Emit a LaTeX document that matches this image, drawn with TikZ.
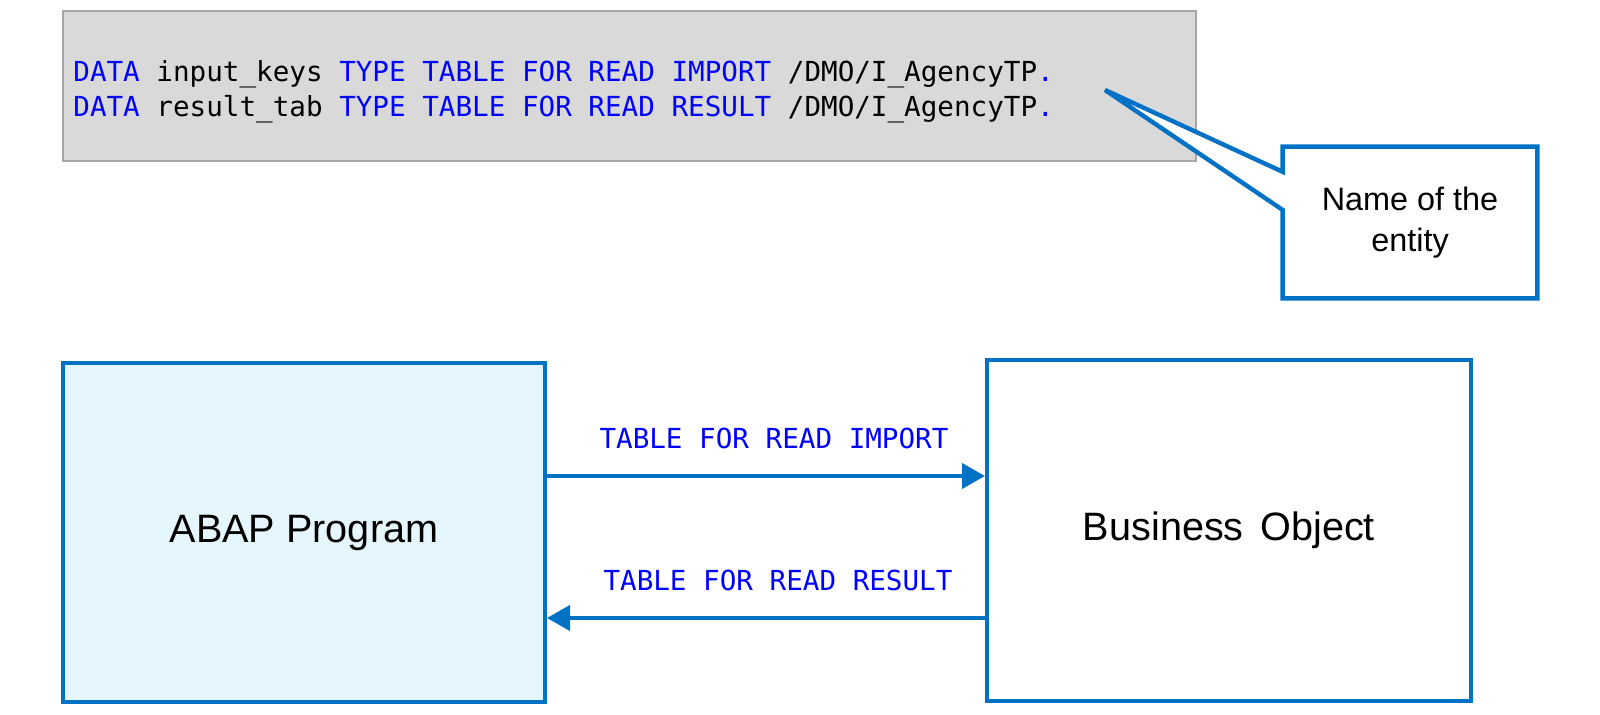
\documentclass[tikz,border=0pt]{standalone}
\usepackage{fontspec}
\setmainfont{Liberation Sans}
\setmonofont{DejaVu Sans Mono}
\usetikzlibrary{positioning,calc,arrows.meta}
\definecolor{sapblue}{RGB}{0,114,198}
\definecolor{kwblue}{RGB}{0,0,255}
\definecolor{codegray}{RGB}{217,217,217}
\definecolor{codeframe}{RGB}{166,166,166}
\definecolor{progfill}{RGB}{230,246,253}
\newcommand{\kw}[1]{\textcolor{kwblue}{#1}}

\begin{document}
\begin{tikzpicture}[x=0.5pt,y=-0.5pt,
  box/.style={draw=sapblue,line width=2pt,inner sep=0pt,font=\fontsize{19.8}{24}\selectfont},
  flow/.style={draw=sapblue,line width=2pt,-{Triangle[length=11.5pt,width=12.5pt]}},
  codeline/.style={anchor=base west,inner sep=0pt,font=\ttfamily\fontsize{13.8}{16}\selectfont},
  flowlabel/.style={above=12.5pt,inner sep=0pt,text=kwblue,font=\ttfamily\fontsize{13.8}{16}\selectfont}]
  \useasboundingbox (0,0) rectangle (1600,715);

  %code box
  \node[draw=codeframe,line width=1pt,fill=codegray,minimum width=566.5pt,minimum height=75pt,inner sep=0pt] (code) at (629.5,86) {};
  \node[codeline] (line1) at (73,81.5) {\kw{DATA} input\_keys \kw{TYPE TABLE FOR READ IMPORT} /DMO/I\_AgencyTP\kw{.}};
  \node[codeline] (line2) at (73,116.5) {\kw{DATA} result\_tab \kw{TYPE TABLE FOR READ RESULT} /DMO/I\_AgencyTP\kw{.}};

  %callout pointing at the entity name
  \node[minimum width=127pt,minimum height=75.5pt,inner sep=0pt,align=center,font=\fontsize{16.2}{20.5}\selectfont] (note) at (1410,222.5) {Name of the\\entity};
  \coordinate (tip) at (1105,90);
  \coordinate (wedgetop) at ($(note.north west)!0.166!(note.south west)$);
  \coordinate (wedgebot) at ($(note.north west)!0.417!(note.south west)$);
  \fill[white] (tip) -- (wedgetop) -- (wedgebot) -- cycle;
  \draw[sapblue,line width=2.2pt] (tip) -- (wedgetop) -- (note.north west) -- (note.north east)
    -- (note.south east) -- (note.south west) -- (wedgebot) -- cycle;

  %program and business object
  \node[box,fill=progfill,minimum width=241pt,minimum height=169.5pt] (abap) at (304,532.5) {ABAP Program};
  \node[box,minimum width=242pt,minimum height=170.5pt] (bo) at (1229,530.5) {Business\hspace{0.15em} Object};

  %read request and result
  \draw[flow] ([yshift=28.25pt]abap.east) -- node[flowlabel,xshift=4pt] {TABLE FOR READ IMPORT} ([yshift=28.25pt]abap.east -| bo.west);
  \draw[flow] ([yshift=-42.75pt]abap.east -| bo.west) -- node[flowlabel,xshift=6pt] {TABLE FOR READ RESULT} ([yshift=-42.75pt]abap.east);
\end{tikzpicture}
\end{document}
